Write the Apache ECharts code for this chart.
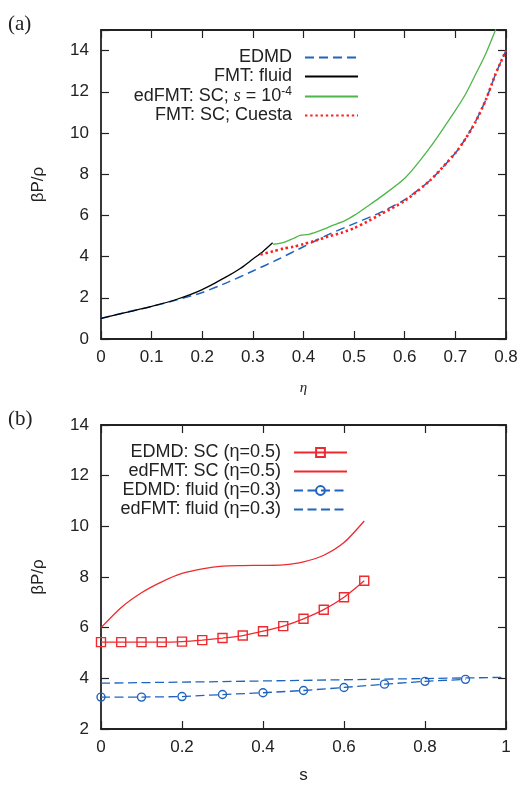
<!DOCTYPE html>
<html>
<head>
<meta charset="utf-8">
<script src="https://cdn.jsdelivr.net/npm/echarts@6/dist/echarts.min.js"></script>
<style>
html,body{margin:0;padding:0;background:#fff;}
#c{width:523px;height:785px;}
</style>
</head>
<body>
<div id="c"></div>
<script>
// ---------- Panel (a) data ----------
const etaEDMD = [0,0.05,0.1,0.15,0.2,0.25,0.3,0.35,0.4,0.45,0.5,0.55,0.6,0.65,0.7,0.72,0.74,0.76,0.78,0.8];
const pEDMD   = [1.0,1.3,1.58,1.9,2.26,2.75,3.3,3.87,4.48,5.08,5.6,6.12,6.77,7.7,9.03,9.72,10.57,11.6,12.9,14.0];
const etaFluid = [0,0.05,0.1,0.15,0.2,0.25,0.275,0.3,0.32,0.339];
const pFluid   = [1.0,1.29,1.58,1.93,2.4,3.05,3.42,3.88,4.25,4.67];
const etaSC = [0.34,0.36,0.38,0.393,0.41,0.426,0.44,0.459,0.48,0.5,0.525,0.55,0.6,0.65,0.7,0.72,0.74,0.76,0.78];
const pSC   = [4.6,4.68,4.88,5.03,5.08,5.2,5.33,5.53,5.72,6.0,6.42,6.85,7.8,9.3,11.1,11.88,12.85,13.85,15.05];
const etaCuesta = [0.315,0.34,0.36,0.38,0.4,0.42,0.45,0.475,0.5,0.525,0.55,0.6,0.65,0.7,0.72,0.74,0.76,0.78,0.8];
const pCuesta   = [4.1,4.26,4.39,4.48,4.6,4.75,4.98,5.16,5.38,5.69,6.02,6.71,7.7,9.03,9.72,10.55,11.6,12.9,14.0];

// ---------- Panel (b) data ----------
const sSC = [0,0.05,0.1,0.15,0.2,0.25,0.3,0.35,0.4,0.45,0.5,0.55,0.6,0.65];
const pEDMDsc = [5.43,5.43,5.43,5.43,5.45,5.51,5.59,5.69,5.86,6.06,6.35,6.71,7.2,7.85];
const pFMTsc  = [6.0,6.8,7.38,7.81,8.14,8.32,8.43,8.45,8.46,8.48,8.6,8.86,9.36,10.21];
const sFluidEDMD = [0,0.1,0.2,0.3,0.4,0.5,0.6,0.7,0.8,0.9];
const pEDMDfluid = [3.26,3.26,3.28,3.36,3.43,3.52,3.64,3.77,3.88,3.96];
const sFluidFMT = [0,0.25,0.5,0.75,1.0];
const pFMTfluid = [3.81,3.86,3.92,3.98,4.04];

// ---------- labels ----------
const namesA = ['EDMD','FMT: fluid','edFMT: SC; s = 10-4','FMT: SC; Cuesta'];
const namesB = ['EDMD: SC (\u03b7=0.5)','edFMT: SC (\u03b7=0.5)','EDMD: fluid (\u03b7=0.3)','edFMT: fluid (\u03b7=0.3)'];
const panelLabels = ['(a)','(b)'];
const axisTitles = {xa:'\u03b7', xb:'s', y:'\u03b2P/\u03c1'};

const zip = (xs, ys) => xs.map((x, i) => [x, ys[i]]);

const SANS = 'Liberation Sans, Arial, Helvetica, sans-serif';
const SERIF = 'Liberation Serif, Times New Roman, serif';
const INK = '#222';
const BLUE = '#1f64be';
const RED = '#ee2a2f';
const GREEN = '#4cb748';

function xAxisBase(grid, min, max, interval, pos, showLabel) {
  return {
    type:'value', gridIndex:grid, min:min, max:max, interval:interval, position:pos,
    axisLine:{show:true, onZero:false, lineStyle:{color:INK, width:1.8}},
    axisTick:{show:true, inside:true, length:8, lineStyle:{color:INK, width:1.2}},
    axisLabel:{show:showLabel, fontSize:17, color:INK, fontFamily:SANS, margin:10},
    splitLine:{show:false}
  };
}
function yAxisBase(grid, min, max, interval, pos, showLabel) {
  return {
    type:'value', gridIndex:grid, min:min, max:max, interval:interval, position:pos,
    axisLine:{show:true, onZero:false, lineStyle:{color:INK, width:1.8}},
    axisTick:{show:true, inside:true, length:8, lineStyle:{color:INK, width:1.2}},
    axisLabel:{show:showLabel, fontSize:17, color:INK, fontFamily:SANS, margin:12,
      formatter: v => (v % 2 === 0 ? String(v) : '')},
    splitLine:{show:false}
  };
}

const xa = xAxisBase(0, 0, 0.8, 0.1, 'bottom', true);
xa.name = axisTitles.xa; xa.nameLocation = 'middle'; xa.nameGap = 42;
xa.nameTextStyle = {fontFamily:SERIF, fontStyle:'italic', fontSize:15, color:INK};
const xaTop = xAxisBase(0, 0, 0.8, 0.1, 'top', false);
const ya = yAxisBase(0, 0, 15, 2, 'left', true);
ya.name = axisTitles.y; ya.nameLocation = 'middle'; ya.nameGap = 54;
ya.nameTextStyle = {fontFamily:SANS, fontSize:17, color:INK};
const yaRight = yAxisBase(0, 0, 15, 2, 'right', false);

const xb = xAxisBase(1, 0, 1, 0.2, 'bottom', true);
xb.name = axisTitles.xb; xb.nameLocation = 'middle'; xb.nameGap = 38;
xb.nameTextStyle = {fontFamily:SANS, fontSize:17, color:INK};
const xbTop = xAxisBase(1, 0, 1, 0.2, 'top', false);
const yb = yAxisBase(1, 2, 14, 2, 'left', true);
yb.name = axisTitles.y; yb.nameLocation = 'middle'; yb.nameGap = 54;
yb.nameTextStyle = {fontFamily:SANS, fontSize:17, color:INK};
const ybRight = yAxisBase(1, 2, 14, 2, 'right', false);

const legendText = {fontSize:18, color:INK, fontFamily:SANS, lineHeight:19, padding:[0,8,0,0],
  rich:{ it:{fontFamily:SERIF, fontStyle:'italic', fontSize:18, color:INK},
         n:{fontSize:18, fontFamily:SANS, color:INK},
         sup:{fontSize:12, fontFamily:SANS, color:INK, padding:[0,0,9,0]} }};

const hideMark = {opacity:0};
const SM = 0.25;
const option = {
  animation:false,
  backgroundColor:'#fff',
  textStyle:{fontFamily:SANS},
  grid:[
    {left:101, top:30, right:17, height:309},
    {left:101, top:425, right:17, height:306}
  ],
  xAxis:[xa, xaTop, xb, xbTop],
  yAxis:[ya, yaRight, yb, ybRight],
  legend:[
    {data:namesA.map(n => ({name:n, itemStyle:hideMark})),
     orient:'vertical', align:'right', right:164, top:48, padding:0,
     itemWidth:53, itemHeight:11, itemGap:0, textStyle:legendText,
     formatter: n => n === namesA[2] ? '{n|edFMT: SC; }{it|s}{n| = 10}{sup|-4}' : n},
    {data:[{name:namesB[0]}, {name:namesB[1], itemStyle:hideMark},
           {name:namesB[2]}, {name:namesB[3], itemStyle:hideMark}],
     orient:'vertical', align:'right', right:175, top:443, padding:0,
     itemWidth:53, itemHeight:11, itemGap:0, textStyle:legendText}
  ],
  graphic:[
    {type:'text', left:8, top:14, style:{text:panelLabels[0], font:'21px '+SERIF, fill:INK}},
    {type:'text', left:8, top:409, style:{text:panelLabels[1], font:'21px '+SERIF, fill:INK}}
  ],
  series:[
    {name:namesA[0], type:'line', xAxisIndex:0, yAxisIndex:0, data:zip(etaEDMD,pEDMD),
     showSymbol:false, symbol:'none', smooth:SM,
     lineStyle:{color:BLUE, width:1.5, type:[9,5]}, itemStyle:{color:BLUE}},
    {name:namesA[1], type:'line', xAxisIndex:0, yAxisIndex:0, data:zip(etaFluid,pFluid),
     showSymbol:false, symbol:'none', smooth:SM,
     lineStyle:{color:'#000', width:1.3}, itemStyle:{color:'#000'}},
    {name:namesA[2], type:'line', xAxisIndex:0, yAxisIndex:0, data:zip(etaSC,pSC),
     showSymbol:false, symbol:'none', clip:true, smooth:SM,
     lineStyle:{color:GREEN, width:1.3}, itemStyle:{color:GREEN}},
    {name:namesA[3], type:'line', xAxisIndex:0, yAxisIndex:0, data:zip(etaCuesta,pCuesta),
     showSymbol:false, symbol:'none', smooth:SM,
     lineStyle:{color:'#ff1f1f', width:2.6, type:[2.4,2.8]}, itemStyle:{color:'#ff1f1f'}},

    {name:namesB[0], type:'line', xAxisIndex:2, yAxisIndex:2, data:zip(sSC,pEDMDsc),
     symbol:'rect', symbolSize:9, showSymbol:true, smooth:SM,
     lineStyle:{color:RED, width:1.3},
     itemStyle:{color:'rgba(255,255,255,0)', borderColor:RED, borderWidth:1.4}},
    {name:namesB[1], type:'line', xAxisIndex:2, yAxisIndex:2, data:zip(sSC,pFMTsc),
     showSymbol:false, symbol:'none', smooth:SM,
     lineStyle:{color:RED, width:1.3}, itemStyle:{color:RED}},
    {name:namesB[2], type:'line', xAxisIndex:2, yAxisIndex:2, data:zip(sFluidEDMD,pEDMDfluid),
     symbol:'circle', symbolSize:8, showSymbol:true,
     lineStyle:{color:BLUE, width:1.3, type:[9,4.5]},
     itemStyle:{color:'rgba(255,255,255,0)', borderColor:BLUE, borderWidth:1.4}},
    {name:namesB[3], type:'line', xAxisIndex:2, yAxisIndex:2, data:zip(sFluidFMT,pFMTfluid),
     showSymbol:false, symbol:'none',
     lineStyle:{color:BLUE, width:1.3, type:[9,4.5]}, itemStyle:{color:BLUE}}
  ]
};

const chart = echarts.init(document.getElementById('c'), null, {renderer:'canvas'});
chart.setOption(option);
</script>
</body>
</html>
